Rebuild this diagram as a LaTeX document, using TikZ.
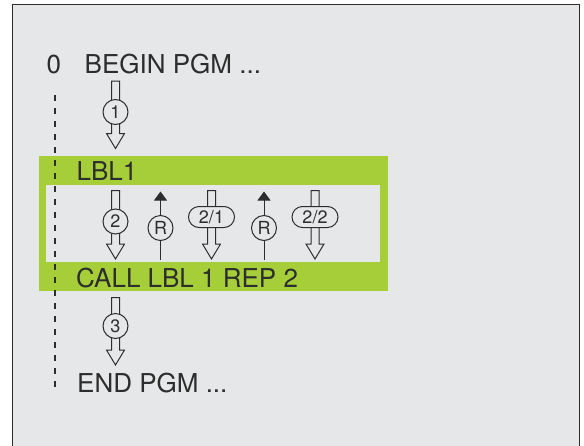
\documentclass[tikz,border=0pt]{standalone}
\usepackage{fontspec}
\setmainfont{TeX Gyre Heros}
\usetikzlibrary{calc,arrows.meta}

\definecolor{panelgray}{RGB}{230,231,232}
\definecolor{lblgreen}{RGB}{166,206,57}
\definecolor{inkgray}{RGB}{45,45,45}

\begin{document}
\begin{tikzpicture}[x=1pt,y=-1pt,
    prog/.style={anchor=base west, inner sep=0pt, text=inkgray, font=\fontsize{26}{30}\selectfont},
    num/.style={circle, draw=inkgray, line width=1pt, fill=panelgray, minimum size=25pt, inner sep=0pt, text=inkgray, font=\fontsize{18}{20}\selectfont},
    rep/.style={rectangle, rounded corners=10.5pt, draw=inkgray, line width=1pt, fill=panelgray, minimum width=46pt, minimum height=21pt, inner sep=0pt, text=inkgray, font=\fontsize{18}{20}\selectfont},
    hollow/.style={draw=inkgray, line width=1pt, fill=panelgray, line join=miter},
    back/.style={-{Triangle[length=9pt,width=13pt]}, draw=inkgray, line width=1pt}]

    \useasboundingbox (0,0) rectangle (584,445);
    \clip (0,0) rectangle (584,445);

    % Rahmen
    \draw[draw=inkgray, line width=1.3pt, fill=panelgray] (12.5,4.5) rectangle (579.5,455);

    % Unterprogramm-Block
    \fill[lblgreen] (39,156) rectangle (388,291);
    \fill[panelgray] (46,185) rectangle (380,262);

    % Programmlauf links
    \draw[inkgray, line width=1.3pt, dash pattern=on 6pt off 7pt] (55,95) -- (55,391);

    % Programmzeilen
    \node[prog] (line0) at (46.5,73) {0};
    \node[prog] (beginpgm) at (84.5,73) {BEGIN PGM ...};
    \node[prog] (lbl) at (76.5,180) {LBL1};
    \node[prog] (call) at (76,287) {CALL LBL 1 REP 2};
    \node[prog] (endpgm) at (77,392) {END PGM ...};

    % Enden der Pfeile
    \coordinate (s1) at (115.5,81);    \coordinate (e1) at (115.5,148.5);
    \coordinate (s2) at (115.5,190.5); \coordinate (e2) at (115.5,259);
    \coordinate (s3) at (211.5,190.5); \coordinate (e3) at (211.5,259);
    \coordinate (s4) at (315,190.5);   \coordinate (e4) at (315,259);
    \coordinate (s5) at (115.5,297.5); \coordinate (e5) at (115.5,365);
    \coordinate (rb1) at (160.5,260);  \coordinate (rt1) at (160.5,191.5);
    \coordinate (rb2) at (264,260);    \coordinate (rt2) at (264,191.5);

    % Hohlpfeile (Ablauf)
    \foreach \k in {1,...,5}
        \draw[hollow] ($(s\k)+(-4,0)$) -- ($(e\k)+(-4,-15)$) -- ($(e\k)+(-9,-15)$) -- (e\k)
            -- ($(e\k)+(9,-15)$) -- ($(e\k)+(4,-15)$) -- ($(s\k)+(4,0)$) -- cycle;

    % Ruecksprung
    \draw[back] (rb1) -- (rt1);
    \draw[back] (rb2) -- (rt2);

    % Nummern
    \node[num] (c1) at (115.5,112) {1};
    \node[num] (c2) at (115.5,221.5) {2};
    \node[num] (r1) at (160.5,228) {R};
    \node[rep] (d1) at (211.5,217) {2/1};
    \node[num] (r2) at (264,228) {R};
    \node[rep] (d2) at (315,217) {2/2};
    \node[num] (c3) at (115.5,326) {3};
\end{tikzpicture}
\end{document}
